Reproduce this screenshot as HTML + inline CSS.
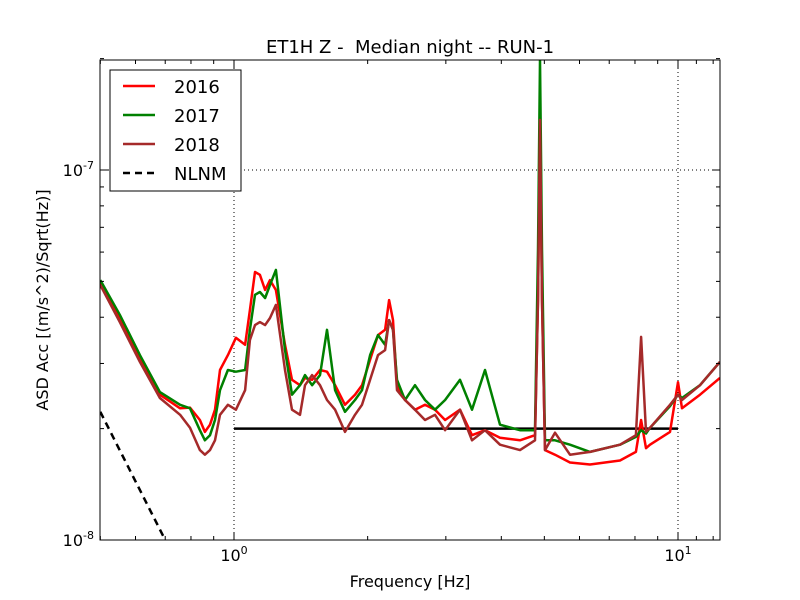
<!DOCTYPE html>
<html><head><meta charset="utf-8"><style>
body{margin:0;background:#fff;}
svg{display:block;font-family:"DejaVu Sans","Liberation Sans",sans-serif;}
</style></head><body>
<svg id="chart" width="800" height="600">
<rect width="800" height="600" fill="#fff"/>
<defs><clipPath id="pc"><rect x="100" y="60" width="620" height="480"/></clipPath></defs>
<g id="grid"></g>
<g id="series" clip-path="url(#pc)"></g>
<rect x="100" y="60" width="620" height="480" fill="none" stroke="#000" stroke-width="1"/>
<g id="ticks"></g>
<text x="410" y="53" text-anchor="middle" font-size="18" xml:space="preserve" style="white-space:pre">ET1H Z -  Median night -- RUN-1</text>
<text x="410" y="587" text-anchor="middle" font-size="16">Frequency [Hz]</text>
<text transform="translate(48,300) rotate(-90)" text-anchor="middle" font-size="16">ASD Acc [(m/s^2)/Sqrt(Hz)]</text>
<g id="legend">
<rect x="110" y="70" width="131" height="121" fill="#fff" stroke="#000" stroke-width="1"/>
</g>
</svg>
<script>
const freqs=[0.5,0.553,0.614,0.681,0.756,0.796,0.838,0.860,0.883,0.906,0.930,0.969,1.01,1.059,1.086,1.115,1.144,1.175,1.205,1.243,1.303,1.351,1.408,1.445,1.499,1.562,1.620,1.689,1.778,1.873,1.942,2.025,2.110,2.189,2.235,2.281,2.329,2.427,2.557,2.693,2.836,2.988,3.228,3.436,3.675,3.973,4.407,4.764,4.838,4.889,4.940,5.018,5.284,5.712,6.337,7.402,8.04,8.26,8.47,8.647,9.594,10.0,10.21,11.21,12.43];
const s2016=[4.95,3.98,3.07,2.47,2.27,2.28,2.11,1.96,2.05,2.25,2.88,3.16,3.52,3.37,4.18,5.30,5.21,4.74,5.04,4.74,3.37,2.71,2.62,2.74,2.71,2.88,2.85,2.62,2.32,2.47,2.62,3.07,3.58,3.70,4.45,3.93,2.62,2.39,2.25,2.32,2.25,2.11,2.25,1.92,1.98,1.89,1.86,1.92,4.45,14.08,4.45,1.75,1.70,1.62,1.60,1.64,1.73,2.11,1.77,1.81,1.96,2.67,2.27,2.47,2.74];
const s2017=[5.04,4.06,3.16,2.51,2.32,2.27,1.98,1.86,1.92,2.11,2.54,2.88,2.85,2.88,3.70,4.60,4.68,4.51,4.89,5.37,3.26,2.47,2.62,2.79,2.62,2.79,3.70,2.54,2.22,2.39,2.54,3.16,3.58,3.37,3.93,3.70,2.71,2.39,2.62,2.39,2.25,2.39,2.71,2.25,2.88,2.05,1.98,1.98,6.08,19.8,6.08,1.86,1.86,1.81,1.73,1.81,1.90,1.98,1.94,2.01,2.30,2.47,2.42,2.62,3.03];
const s2018=[4.89,3.88,3.03,2.42,2.18,2.01,1.75,1.70,1.75,1.86,2.18,2.32,2.25,2.54,3.47,3.81,3.88,3.81,3.98,4.32,2.88,2.25,2.18,2.62,2.79,2.62,2.39,2.25,1.96,2.18,2.32,2.71,3.16,3.26,3.93,3.70,2.54,2.39,2.25,2.11,2.18,1.98,2.25,1.86,1.98,1.81,1.75,1.86,4.45,13.66,4.45,1.75,1.95,1.70,1.73,1.81,1.92,3.54,1.96,2.01,2.32,2.47,2.39,2.62,3.03];
const nlnmF=[0.5,0.7,0.75];
const nlnmV=[2.22,1.0,0.85];
const refF=[1,10];
const refV=[2.0,2.0];
const unit=1e-8;
const xTickMajor=[1,10];
const xTickLabels=["0","1"];
const yTickMajor=[1e-8,1e-7];
const yTickLabels=["-8","-7"];
const xMinor=[0.5,0.6,0.7,0.8,0.9,2,3,4,5,6,7,8,9,11,12];
const yMinor=[2e-8,3e-8,4e-8,5e-8,6e-8,7e-8,8e-8,9e-8,2e-7];

const X=f=>234+444*Math.log10(f);
const Y=v=>540-370*(Math.log10(v)+8);
const NS="http://www.w3.org/2000/svg";
function mk(tag,attrs,parent){const e=document.createElementNS(NS,tag);for(const k in attrs)e.setAttribute(k,attrs[k]);parent.appendChild(e);return e;}
const grid=document.getElementById('grid'),ser=document.getElementById('series'),ticks=document.getElementById('ticks'),leg=document.getElementById('legend');
xTickMajor.forEach(f=>{const l=mk('line',{x1:X(f),x2:X(f),y1:60,y2:540,stroke:'#000','stroke-dasharray':'1,3','stroke-width':1},grid);

});
[1e-7].forEach(v=>{const l=mk('line',{x1:100,x2:720,y1:Y(v),y2:Y(v),stroke:'#000','stroke-dasharray':'1,3','stroke-width':1},grid);

});
function path(fs,vs,scale,color,w,dash,name){
 const d=fs.map((f,i)=>(i?'L':'M')+X(f).toFixed(1)+','+Y(vs[i]*scale).toFixed(1)).join(' ');
 const p=mk('path',{d:d,fill:'none',stroke:color,'stroke-width':w,'stroke-linejoin':'round'},ser);
 if(dash)p.setAttribute('stroke-dasharray',dash);
 
 
}
path(refF,refV,unit,'#000',2.5,null,'reference-line');
path(nlnmF,nlnmV,unit,'#000',2.5,'7,5','nlnm-line');
path(freqs,s2016,unit,'#ff0000',2.5,null,'series-2016');
path(freqs,s2017,unit,'#008000',2.5,null,'series-2017');
path(freqs,s2018,unit,'#a52a2a',2.5,null,'series-2018');
function tk(x1,y1,x2,y2){const l=mk('line',{x1:x1,y1:y1,x2:x2,y2:y2,stroke:'#000','stroke-width':1},ticks);

}
xTickMajor.forEach((f,i)=>{const x=X(f);tk(x,540,x,532);tk(x,60,x,68);
 const t=mk('text',{x:x,y:561,'text-anchor':'middle','font-size':16},ticks);
 t.innerHTML='10<tspan dy="-7" font-size="11">'+xTickLabels[i]+'</tspan>';
 
 });
xMinor.forEach(f=>{const x=X(f);if(x>100&&x<720){tk(x,540,x,536);tk(x,60,x,64);}});
yTickMajor.forEach((v,i)=>{const y=Y(v);tk(100,y,108,y);tk(720,y,712,y);
 const t=mk('text',{x:94,y:y+6,'text-anchor':'end','font-size':16},ticks);
 t.innerHTML='10<tspan dy="-7" font-size="11">'+yTickLabels[i]+'</tspan>';
 
 });
yMinor.forEach(v=>{const y=Y(v);tk(100,y,104,y);tk(720,y,716,y);});
const legItems=[['2016','#ff0000',null],['2017','#008000',null],['2018','#a52a2a',null],['NLNM','#000','7,5']];
legItems.forEach((it,i)=>{const y=86+29*i;
 const l=mk('line',{x1:123,x2:155,y1:y,y2:y,stroke:it[1],'stroke-width':2.5},leg);
 if(it[2])l.setAttribute('stroke-dasharray',it[2]);
 
 
 const t=mk('text',{x:174,y:y+7,'font-size':18},leg);t.textContent=it[0];
 
 });
</script>
</body></html>
